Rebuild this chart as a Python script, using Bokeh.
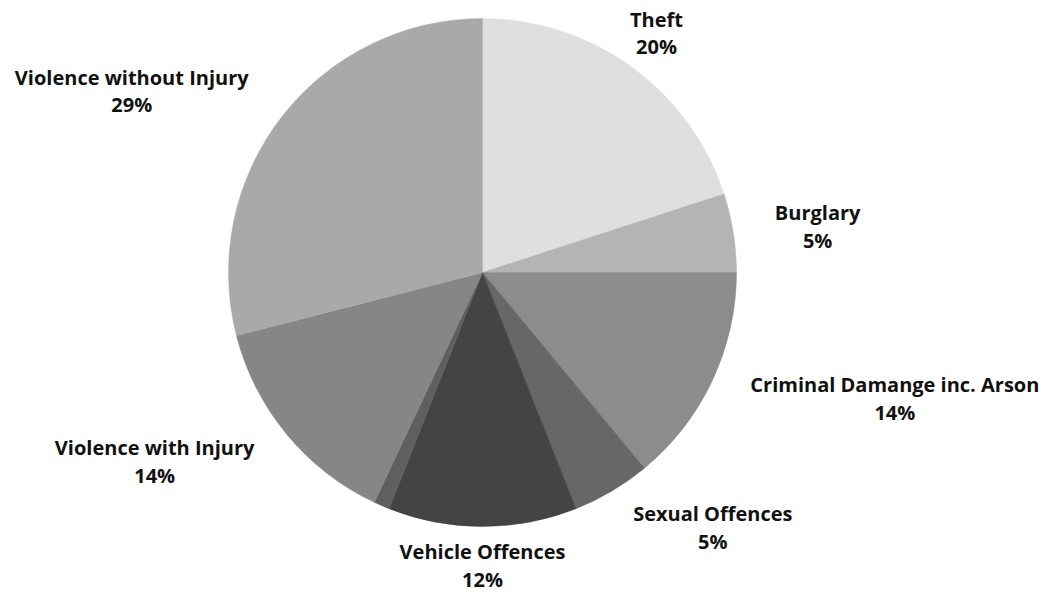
import math
from bokeh.plotting import figure
from bokeh.models import ColumnDataSource, Range1d
from bokeh.embed import file_html
from bokeh.resources import INLINE
from bokeh.core.properties import value

# ---- data ----
categories = ["Theft", "Burglary", "Criminal Damange inc. Arson", "Sexual Offences",
              "Vehicle Offences", "Other", "Violence with Injury", "Violence without Injury"]
shares = [20, 5, 14, 5, 12, 1, 14, 29]
labelled = [True, True, True, True, True, False, True, True]

# ---- style ----
colors = ["#dfdfdf", "#b4b4b4", "#8c8c8c", "#676767", "#444444", "#5f5f5f", "#868686", "#aaa9aa"]
anchors = ["center", "center_left", "center_left", "center_left", "center",
           "center", "center_right", "center_right"]

W, H = 1051, 593
CX, CY = 482, H - 272
R = 254
RL = 296
HALF_BLOCK = 28  # half height of a two-line label block, px

total = float(sum(shares))
starts, ends, lx, ly = [], [], [], []
cum = 0.0
for s in shares:
    a0 = cum / total
    a1 = (cum + s) / total
    starts.append(math.pi / 2 - 2 * math.pi * a1)
    ends.append(math.pi / 2 - 2 * math.pi * a0)
    mid = (a0 + a1) / 2 * 2 * math.pi  # clockwise from north
    lx.append(CX + RL * math.sin(mid))
    y = CY + RL * math.cos(mid)
    ly.append(min(max(y, HALF_BLOCK), H - HALF_BLOCK))
    cum += s

wedge_src = ColumnDataSource(dict(
    x=[CX] * len(shares), y=[CY] * len(shares),
    start=starts, end=ends, color=colors, cat=categories,
))

idx = [i for i, f in enumerate(labelled) if f]
label_src = ColumnDataSource(dict(
    x=[lx[i] for i in idx],
    y=[ly[i] for i in idx],
    text=["%s\n%d%%" % (categories[i], shares[i]) for i in idx],
    anchor=[anchors[i] for i in idx],
))

p = figure(width=W, height=H, x_range=Range1d(0, W), y_range=Range1d(0, H),
           output_backend="svg", toolbar_location=None, min_border=0)
p.axis.visible = False
p.grid.visible = False
p.outline_line_color = None
p.background_fill_color = "white"
p.border_fill_color = "white"

p.wedge(x="x", y="y", radius=R, start_angle="start", end_angle="end",
        fill_color="color", line_color="color", line_width=0.5, source=wedge_src)

p.text(x="x", y="y", text="text", anchor="anchor", source=label_src,
       text_align="center", text_baseline="middle",
       text_font=value("Open Sans"), text_font_style="bold",
       text_font_size="20px", text_line_height=1.03, text_color="#111111")

open("out.html", "w").write(file_html(p, INLINE))
